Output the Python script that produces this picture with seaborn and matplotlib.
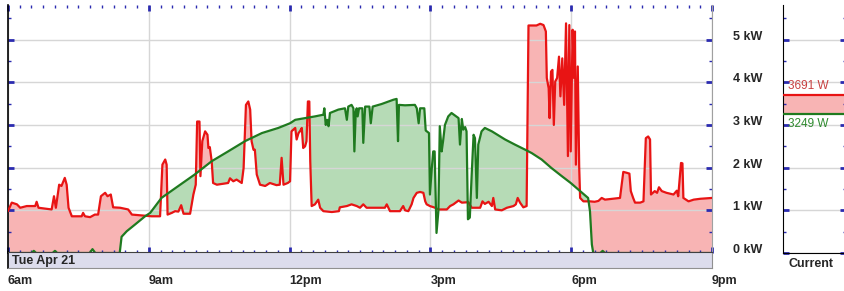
import pandas as pd
import seaborn as sns
import matplotlib.pyplot as plt
from matplotlib.ticker import MultipleLocator

# household consumption (kW), time in hours
red_t = [6.00, 6.08, 6.19, 6.26, 6.40, 6.58, 6.61, 6.65, 6.93, 6.98, 7.02, 7.09, 7.14, 7.21, 7.25, 7.29,
         7.36, 7.57, 7.60, 7.64, 7.75, 7.85, 7.92, 7.98, 8.07, 8.12, 8.19, 8.24, 8.39, 8.56, 8.64, 9.06,
         9.24, 9.29, 9.35, 9.38, 9.40, 9.49, 9.56, 9.63, 9.69, 9.74, 9.88, 9.95, 10.00, 10.03, 10.08, 10.10,
         10.14, 10.20, 10.25, 10.27, 10.30, 10.34, 10.37, 10.45, 10.69, 10.73, 10.80, 10.87, 10.98, 11.02,
         11.07, 11.12, 11.16, 11.19, 11.23, 11.26, 11.30, 11.37, 11.48, 11.58, 11.72, 11.79, 11.83, 11.87,
         11.96, 12.01, 12.04, 12.12, 12.15, 12.19, 12.22, 12.26, 12.29, 12.33, 12.36, 12.39, 12.42, 12.44,
         12.47, 12.54, 12.61, 12.65, 12.72, 12.90, 13.05, 13.07, 13.22, 13.32, 13.43, 13.50, 13.57, 13.64,
         14.03, 14.07, 14.14, 14.35, 14.42, 14.46, 14.53, 14.60, 14.64, 14.71, 14.78, 14.85, 14.89, 14.92,
         14.99, 15.10, 15.17, 15.35, 15.42, 15.49, 15.60, 15.67, 15.81, 15.88, 16.06, 16.11, 16.16, 16.24,
         16.31, 16.34, 16.38, 16.52, 16.63, 16.77, 16.82, 16.86, 16.91, 16.98, 17.05, 17.09, 17.26, 17.34,
         17.41, 17.46, 17.48, 17.52, 17.54, 17.57, 17.60, 17.63, 17.66, 17.70, 17.74, 17.77, 17.81, 17.85,
         17.89, 17.93, 17.96, 17.99, 18.03, 18.06, 18.08, 18.10, 18.14, 18.17, 18.19, 18.26, 18.40, 18.50,
         18.58, 18.65, 18.72, 19.04, 19.08, 19.11, 19.18, 19.24, 19.27, 19.32, 19.36, 19.47, 19.54, 19.59,
         19.64, 19.68, 19.70, 19.78, 19.83, 19.87, 19.93, 20.03, 20.18, 20.25, 20.28, 20.34, 20.37, 20.39,
         20.50, 20.61, 20.75, 21.00]
red_kw = [0.98, 1.18, 1.14, 1.06, 1.10, 1.10, 1.20, 1.06, 1.02, 1.33, 1.06, 1.60, 1.57, 1.76, 1.60, 1.06,
          0.86, 0.86, 0.94, 0.86, 0.84, 0.90, 0.90, 1.33, 1.41, 1.33, 1.37, 1.07, 1.06, 1.02, 0.90, 0.86,
          0.86, 2.07, 2.19, 2.07, 0.90, 0.94, 0.98, 0.97, 1.12, 0.92, 0.92, 1.37, 1.60, 3.08, 3.08, 1.80,
          2.62, 2.85, 2.77, 2.46, 2.48, 2.15, 1.64, 1.60, 1.64, 1.75, 1.68, 1.72, 1.64, 1.99,
          3.47, 3.55, 3.36, 2.62, 2.42, 2.42, 1.84, 1.60, 1.57, 1.64, 1.59, 1.60, 2.23, 1.60,
          1.64, 1.68, 2.85, 2.93, 2.66, 2.81, 2.85, 2.93, 2.46, 2.50, 2.62, 3.55, 3.55, 2.15,
          1.10, 1.14, 1.25, 1.06, 0.98, 0.96, 0.98, 1.07, 1.10, 1.14, 1.10, 1.06, 1.14, 1.06,
          1.06, 1.14, 0.98, 0.98, 1.10, 1.00, 0.98, 1.14, 1.29, 1.41, 1.43, 1.41, 1.21, 1.14,
          1.10, 1.06, 1.02, 1.02, 1.10, 1.14, 1.23, 1.18, 1.19, 1.06, 1.06, 1.21, 1.15, 1.20,
          1.10, 1.29, 1.02, 1.00, 1.06, 1.10, 1.14, 1.29, 1.18, 1.07, 1.10, 5.33, 5.33, 5.37,
          5.34, 5.19, 4.10, 3.86, 3.16, 4.25, 4.29, 3.00, 4.02, 4.10, 4.60, 3.67, 4.56, 3.47,
          5.38, 2.27, 5.34, 2.38, 5.23, 4.10, 5.19, 2.07, 4.37, 2.03, 1.29, 1.21, 1.21, 1.20,
          1.22, 1.29, 1.25, 1.29, 1.64, 1.90, 1.88, 1.86, 1.45, 1.29, 1.18, 1.18, 1.21, 2.69,
          2.73, 2.66, 1.37, 1.45, 1.41, 1.54, 1.45, 1.41, 1.37, 1.46, 1.33, 2.11, 2.10, 1.29,
          1.21, 1.25, 1.27, 1.29]

# solar production (kW)
green_t = [6.00, 6.50, 6.55, 6.60, 6.95, 7.00, 7.05, 7.74, 7.80, 7.86, 8.38, 8.42, 8.53, 8.71, 8.92, 9.03,
           9.27, 9.63, 9.98, 10.34, 10.69, 11.05, 11.41, 11.76, 12.01, 12.12, 12.33, 12.54, 12.72, 12.74,
           12.77, 12.80, 12.83, 12.86, 13.04, 13.18, 13.22, 13.25, 13.32, 13.36, 13.38, 13.41, 13.43, 13.45,
           13.48, 13.55, 13.57, 13.61, 13.70, 13.73, 13.77, 13.96, 14.21, 14.28, 14.31, 14.33, 14.46, 14.67,
           14.71, 14.75, 14.78, 14.87, 14.90, 14.97, 14.99, 15.03, 15.06, 15.09, 15.13, 15.17, 15.20, 15.24,
           15.27, 15.31, 15.38, 15.45, 15.60, 15.63, 15.67, 15.70, 15.74, 15.77, 15.80, 15.84, 15.88, 15.92,
           15.95, 15.99, 16.02, 16.09, 16.16, 16.31, 16.59, 16.80, 17.02, 17.16, 17.37, 17.58, 17.80, 17.99,
           18.19, 18.36, 18.40, 18.44, 18.47, 18.62, 18.67, 18.72, 21.00]
green_kw = [0.00, 0.00, 0.05, 0.00, 0.00, 0.05, 0.00, 0.00, 0.09, 0.00, 0.00, 0.38, 0.51, 0.67, 0.86, 0.94,
            1.29, 1.57, 1.84, 2.15, 2.38, 2.62, 2.81, 2.93, 3.04, 3.12, 3.16, 3.20, 3.24, 3.39,
            3.00, 3.12, 2.97, 3.28, 3.36, 3.39, 3.12, 3.43, 3.47, 3.39, 2.38, 3.32, 3.39, 3.20,
            3.39, 3.39, 2.58, 3.43, 3.43, 3.04, 3.43, 3.49, 3.59, 3.61, 2.62, 3.47, 3.46, 3.47,
            3.39, 3.04, 3.39, 3.39, 2.87, 2.81, 1.37, 1.99, 2.38, 2.38, 0.47, 0.98, 2.97, 2.38,
            2.62, 3.00, 3.20, 3.28, 3.16, 2.54, 3.14, 2.89, 2.95, 2.85, 0.79, 0.83, 1.84, 2.77,
            2.69, 1.29, 2.54, 2.85, 2.93, 2.85, 2.66, 2.54, 2.42, 2.34, 2.19, 1.99, 1.80, 1.64,
            1.45, 1.29, 0.98, 0.20, 0.00, 0.00, 0.05, 0.00, 0.00]

hour_ticks = [6, 9, 12, 15, 18, 21]
hour_labels = ["6am", "9am", "12pm", "3pm", "6pm", "9pm"]
kw_ticks = [0, 1, 2, 3, 4, 5]
kw_labels = ["0 kW", "1 kW", "2 kW", "3 kW", "4 kW", "5 kW"]
date_label = "Tue Apr 21"
current_used = 3.691
current_solar = 3.249

RED = "#e81414"
PINK = "#f8b4b4"
GREEN = "#1f7a1f"
LGREEN = "#b6dbb6"
TICK = "#2b2bb0"
GRID = "#d6d6d6"

sns.set_style("white")
plt.rcParams["font.family"] = ["Liberation Sans", "DejaVu Sans"]
plt.rcParams["font.size"] = 9

W, H = 844, 291
fig = plt.figure(figsize=(W / 100, H / 100), dpi=100)
ax = fig.add_axes([8 / W, (H - 253) / H, 704 / W, 248 / H])
# the strip overlaps the chart bottom a little so the zero line is hidden
strip = fig.add_axes([8 / W, (H - 268) / H, 704 / W, 16.5 / H])
cur = fig.add_axes([783 / W, (H - 253) / H, 63 / W, 248 / H])

used = pd.DataFrame({"t": red_t, "kw": red_kw})
solar = pd.DataFrame({"t": green_t, "kw": green_kw})

# fills: pink under consumption, green under solar, white where both overlap
ax.fill_between(used["t"], 0, used["kw"], color=PINK, lw=0, zorder=1)
gfill = ax.fill_between(solar["t"], 0, solar["kw"], color=LGREEN, lw=0, zorder=1)
white = ax.fill_between(used["t"], 0, used["kw"], color="white", lw=0, zorder=1)
white.set_clip_path(gfill.get_paths()[0], ax.transData)

sns.lineplot(data=used, x="t", y="kw", color=RED, lw=1.6, sort=False, estimator=None, ax=ax, zorder=3)
sns.lineplot(data=solar, x="t", y="kw", color=GREEN, lw=1.6, sort=False, estimator=None, ax=ax, zorder=3)

ax.set_xlim(6, 21)
ax.set_ylim(0, 5.81)
ax.set_xlabel("")
ax.set_ylabel("")
ax.set_axisbelow("line")
ax.set_xticks(hour_ticks)
ax.xaxis.set_minor_locator(MultipleLocator(0.25))
ax.set_yticks(kw_ticks, kw_labels)
ax.yaxis.set_minor_locator(MultipleLocator(0.5))
ax.grid(True, which="major", color=GRID, lw=1)
ax.tick_params(which="both", direction="in", top=True, bottom=True, left=True, right=True,
               color=TICK, labelbottom=False, labelleft=False, labelright=True)
ax.tick_params(which="major", length=4, width=2)
ax.tick_params(which="minor", length=2.5, width=1)
ax.tick_params(axis="y", which="major", pad=15)
for lbl in ax.get_yticklabels():
    lbl.set_fontweight("bold")
    lbl.set_verticalalignment("baseline")
ax.spines["left"].set_color("black")
ax.spines["left"].set_linewidth(1.2)
ax.spines["top"].set_visible(False)
ax.spines["right"].set_color("#a0a0a0")
ax.spines["bottom"].set_visible(False)

# date strip under the chart
strip.set_facecolor("#dcdcec")
strip.set_xlim(6, 21)
strip.set_yticks([])
strip.set_xticks(hour_ticks, hour_labels)
strip.tick_params(axis="x", length=0, pad=5)
for lbl in strip.get_xticklabels():
    lbl.set_fontweight("bold")
    lbl.set_horizontalalignment("left")
strip.text(0.006, 0.42, date_label, transform=strip.transAxes, va="center", ha="left", fontweight="bold")
strip.spines["top"].set_color("#404040")
strip.spines["right"].set_color("#909090")
strip.spines["bottom"].set_color("#909090")
strip.spines["left"].set_color("black")
strip.spines["left"].set_linewidth(1.2)

# current readings panel
cur.set_xlim(0, 1)
cur.set_ylim(0, 5.81)
cur.fill_between([0, 1], current_solar, current_used, color=PINK, lw=0, zorder=1)
cur.axhline(current_used, color=RED, lw=1.6, zorder=3)
cur.axhline(current_solar, color=GREEN, lw=1.6, zorder=3)
cur.set_axisbelow("line")
cur.set_xticks([])
cur.set_yticks(kw_ticks)
cur.yaxis.set_minor_locator(MultipleLocator(0.5))
cur.grid(True, axis="y", color=GRID, lw=1)
cur.tick_params(axis="y", which="both", direction="in", left=True, right=True, color=TICK,
                labelleft=False)
cur.tick_params(axis="y", which="major", length=4, width=2)
cur.tick_params(axis="y", which="minor", length=2.5, width=1)
cur.spines["top"].set_visible(False)
cur.spines["right"].set_color("#a0a0a0")
cur.spines["left"].set_color("black")
cur.spines["bottom"].set_color("black")
cur.annotate(f"{round(current_used * 1000)} W", xy=(0, current_used), xytext=(3.5, 2.5),
             textcoords="offset points", color="#c84040", fontsize=8.5, va="bottom", ha="left")
cur.annotate(f"{round(current_solar * 1000)} W", xy=(0, current_solar), xytext=(3.5, -2.5),
             textcoords="offset points", color="#2e8a2e", fontsize=8.5, va="top", ha="left")
cur.text(0.08, -0.045, "Current", transform=cur.transAxes, va="center", ha="left", fontweight="bold")

fig.savefig("out.png", dpi=100)
